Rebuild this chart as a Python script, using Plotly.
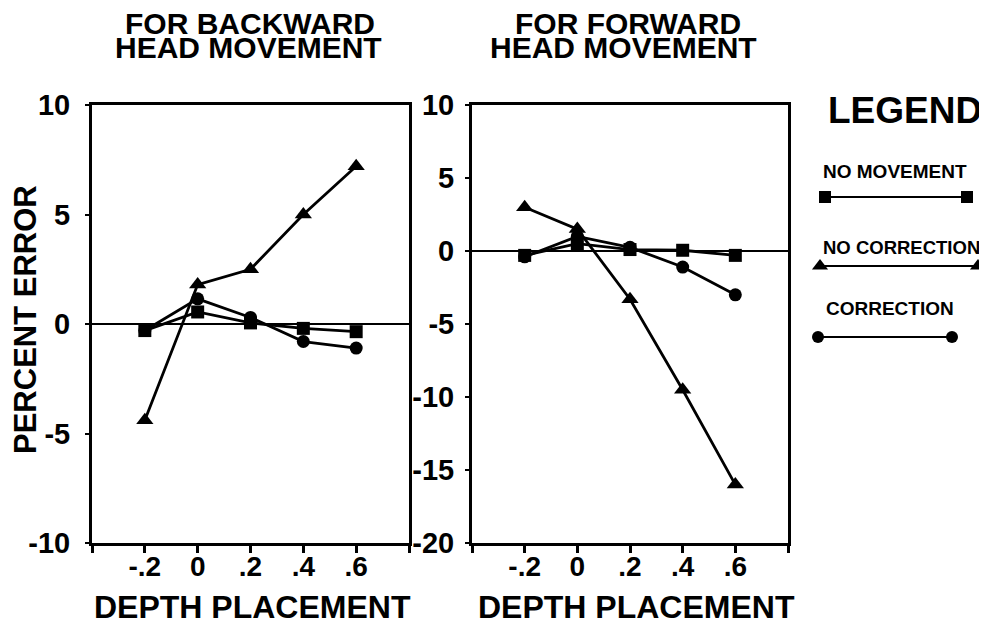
import plotly.graph_objects as go

# ---- data ----
depth = [-0.2, 0.0, 0.2, 0.4, 0.6]
x_tick_vals = [-0.4, -0.2, 0.0, 0.2, 0.4, 0.6, 0.8]
x_tick_text = ["", "-.2", "0", ".2", ".4", ".6", ""]
back_y_ticks = [-10, -5, 0, 5, 10]
fwd_y_ticks = [-20, -15, -10, -5, 0, 5, 10]

back_no_movement = [-0.3, 0.55, 0.05, -0.2, -0.35]
back_no_correction = [-4.4, 1.8, 2.5, 5.0, 7.2]
back_correction = [-0.3, 1.15, 0.3, -0.8, -1.1]

fwd_no_movement = [-0.3, 0.5, 0.1, 0.05, -0.3]
fwd_no_correction = [3.0, 1.5, -3.3, -9.5, -16.0]
fwd_correction = [-0.4, 1.0, 0.25, -1.1, -3.0]

series_names = ["NO MOVEMENT", "NO CORRECTION", "CORRECTION"]
symbols = ["square", "triangle-up", "circle"]
marker_sizes = [13, 15, 13]

W, H = 987, 626
OFF = 8  # page body margin
def px(x): return (x - OFF) / W
def py(y): return 1 - (y - OFF) / H

FONT = "Liberation Sans, Arial, Helvetica, sans-serif"

fig = go.Figure()

panels = [
    ("x", "y", [back_no_movement, back_no_correction, back_correction]),
    ("x2", "y2", [fwd_no_movement, fwd_no_correction, fwd_correction]),
]
for xa, ya, vals in panels:
    for name, sym, ms, v in zip(series_names, symbols, marker_sizes, vals):
        fig.add_trace(go.Scatter(
            x=depth, y=v, mode="lines+markers", name=name, xaxis=xa, yaxis=ya,
            line=dict(color="black", width=2.8),
            marker=dict(symbol=sym, size=ms, color="black"),
            showlegend=False, cliponaxis=False))

# legend keys on a hidden pixel-space axis
leg_keys = [(825, 967, 197), (820, 978, 266), (818, 952, 337)]
for (x0, x1, yy), name, sym, ms in zip(leg_keys, series_names, symbols, marker_sizes):
    fig.add_trace(go.Scatter(
        x=[x0, x1], y=[yy, yy], mode="lines+markers", xaxis="x3", yaxis="y3",
        line=dict(color="black", width=2),
        marker=dict(symbol=sym, size=ms - 1, color="black"),
        showlegend=False, cliponaxis=False, hoverinfo="skip"))

ydom = [py(543), py(105)]
common_x = dict(range=[-0.4, 0.8], tickmode="array", tickvals=x_tick_vals, ticktext=x_tick_text,
                showline=True, linewidth=3, linecolor="black", mirror=True,
                ticks="outside", ticklen=7, tickwidth=2.5, tickcolor="black",
                showgrid=False, zeroline=False, automargin=False, ticklabelstandoff=-11,
                tickfont=dict(family=FONT, size=28, color="black", weight="bold"))
common_y = dict(showline=True, linewidth=3, linecolor="black", mirror=True,
                ticks="outside", ticklen=4, tickwidth=2, tickcolor="black",
                showgrid=False, zeroline=True, zerolinecolor="black", zerolinewidth=1.5,
                automargin=False, tickmode="array",
                tickfont=dict(family=FONT, size=29, color="black", weight="bold"))

fig.update_layout(
    template="none",
    width=W, height=H, margin=dict(l=0, r=0, t=0, b=0, pad=0),
    plot_bgcolor="rgba(0,0,0,0)", paper_bgcolor="white", showlegend=False,
    xaxis=dict(domain=[px(92), px(409)], anchor="y", **common_x),
    yaxis=dict(domain=ydom, anchor="x", range=[-10, 10], tickvals=back_y_ticks,
               ticktext=[str(v) for v in back_y_ticks], ticklabelstandoff=9, **common_y),
    xaxis2=dict(domain=[px(472), px(788)], anchor="y2", **common_x),
    yaxis2=dict(domain=ydom, anchor="x2", range=[-20, 10], tickvals=fwd_y_ticks,
                ticktext=[str(v) for v in fwd_y_ticks], ticklabelstandoff=5, **common_y),
    xaxis3=dict(domain=[0, 1], range=[OFF, W + OFF], visible=False, anchor="y3", automargin=False),
    yaxis3=dict(domain=[0, 1], range=[H + OFF, OFF], visible=False, anchor="x3", automargin=False),
)

def ann(text, x, y, size, angle=0, xanchor="center"):
    fig.add_annotation(text=text, x=px(x), y=py(y), xref="paper", yref="paper",
                       showarrow=False, xanchor=xanchor, yanchor="middle", textangle=angle,
                       font=dict(family=FONT, size=size, color="black", weight="bold"))

ann("FOR BACKWARD", 250, 23, 30)
ann("HEAD MOVEMENT", 248, 48, 30)
ann("FOR FORWARD", 628, 23, 30)
ann("HEAD MOVEMENT", 623, 48, 30)
ann("PERCENT ERROR", 25, 320, 31, angle=-90)
ann("DEPTH PLACEMENT", 252, 607, 32)
ann("DEPTH PLACEMENT", 636, 607, 32)
ann("LEGEND", 905, 111, 37)
ann("NO MOVEMENT", 821, 171, 19, xanchor="left")
ann("NO CORRECTION", 821, 247, 18.5, xanchor="left")
ann("CORRECTION", 824, 308, 19, xanchor="left")

fig.write_html("out.html")
